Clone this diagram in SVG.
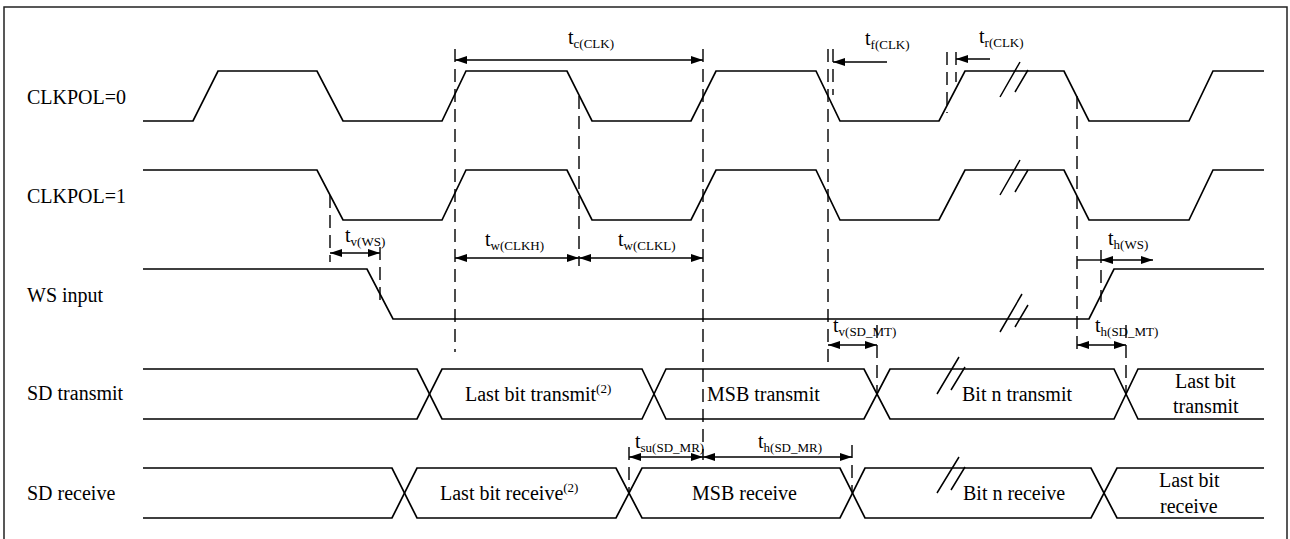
<svg xmlns="http://www.w3.org/2000/svg" width="1290" height="539" viewBox="0 0 1290 539" font-family="Liberation Serif, Times New Roman, DejaVu Serif, serif">
<style>
.wave{fill:none;stroke:#000;stroke-width:1.7;stroke-linejoin:miter}
.slash{fill:none;stroke:#000;stroke-width:1.5}
.dash{fill:none;stroke:#000;stroke-width:1.4;stroke-dasharray:13,7}
.dim{fill:none;stroke:#000;stroke-width:1.4}
text{font-size:20px;fill:#000}
.sub{font-size:13px}
</style>
<defs>
<marker id="ah" viewBox="0 0 12 8" markerWidth="12" markerHeight="8" refX="12" refY="4" orient="auto-start-reverse" markerUnits="userSpaceOnUse">
<path d="M0,0 L12,4 L0,8 z" fill="#000"/>
</marker>
</defs>
<rect x="0" y="0" width="1290" height="539" fill="#fff"/>
<path d="M4,539 V7 H1287 V539" fill="none" stroke="#222" stroke-width="1.5"/>

<g id="clkpol0">
<text x="27" y="104">CLKPOL=0</text>
<path class="wave" d="M143,121 H193 L218,71 H317 L343,121 H442 L466,71 H567 L592,121 H691 L716,71 H816 L840,121 H939 L965,71 H1064 L1089,121 H1189 L1213,71 H1264"/>
<path class="slash" d="M1000,97 L1020,62 M1015,92 L1028,70"/>
</g>

<g id="clkpol1">
<text x="27" y="203">CLKPOL=1</text>
<path class="wave" d="M143,170 H317 L343,220 H442 L466,170 H567 L592,220 H691 L716,170 H816 L840,220 H939 L965,170 H1064 L1089,220 H1189 L1213,170 H1264"/>
<path class="slash" d="M1000,195 L1020,160 M1015,192 L1028,170"/>
</g>

<g id="ws-input">
<text x="27" y="302">WS input</text>
<path class="wave" d="M143,269 H367 L393,319 H1089 L1114,269 H1264"/>
<path class="slash" d="M1000,332 L1022,294 M1015,327 L1028,305"/>
</g>

<g id="sd-transmit">
<text x="27" y="400">SD transmit</text>
<path class="wave" d="M143,369 H417 L442,419 H642 L666,369 H864 L890,419 H1114 L1138,369 H1264"/>
<path class="wave" d="M143,419 H417 L442,369 H642 L666,419 H864 L890,369 H1114 L1138,419 H1264"/>
<path class="slash" d="M937,394 L959,357 M951,390 L965,367"/>
<text x="465" y="401">Last bit transmit<tspan class="sub" dy="-8">(2)</tspan></text>
<text x="707" y="401">MSB transmit</text>
<text x="962" y="401">Bit n transmit</text>
<text x="1175" y="388">Last bit</text>
<text x="1173" y="413">transmit</text>
</g>

<g id="sd-receive">
<text x="27" y="500">SD receive</text>
<path class="wave" d="M143,468 H392 L417,518 H616 L642,468 H840 L865,518 H1091 L1117,468 H1264"/>
<path class="wave" d="M143,518 H392 L417,468 H616 L642,518 H840 L865,468 H1091 L1117,518 H1264"/>
<path class="slash" d="M937,493 L959,457 M951,490 L965,467"/>
<text x="440" y="500">Last bit receive<tspan class="sub" dy="-8">(2)</tspan></text>
<text x="692" y="500">MSB receive</text>
<text x="963" y="500">Bit n receive</text>
<text x="1159" y="487">Last bit</text>
<text x="1160" y="513">receive</text>
</g>

<g id="connectors">
<path class="dash" d="M330,195 V262"/>
<path class="dash" d="M380,247 V300"/>
<path class="dash" d="M455,49 V352"/>
<path class="dash" d="M579,96 V266"/>
<path class="dash" d="M703,49 V460"/>
<path class="dash" d="M828,49 V368"/>
<path class="dash" d="M833,49 V95"/>
<path class="dash" d="M947,52 V113"/>
<path class="dash" d="M956,52 V82"/>
<path class="dash" d="M1077,96 V352"/>
<path class="dash" d="M1101,250 V302"/>
<path class="dash" d="M877,325 V394"/>
<path class="dash" d="M1126,325 V394"/>
<path class="dash" d="M629,447 V495"/>
<path class="dash" d="M852,445 V492"/>

<path class="dim" d="M455,60 H703" marker-start="url(#ah)" marker-end="url(#ah)"/>
<path class="dim" d="M887,62 H833" marker-end="url(#ah)"/>
<path class="dim" d="M990,59 H956" marker-end="url(#ah)"/>
<path class="dim" d="M455,258 H579" marker-start="url(#ah)" marker-end="url(#ah)"/>
<path class="dim" d="M579,258 H703" marker-start="url(#ah)" marker-end="url(#ah)"/>
<path class="dim" d="M330,253 H380" marker-start="url(#ah)" marker-end="url(#ah)"/>
<path class="dim" d="M1077,260 H1101"/>
<path class="dim" d="M1101,260 H1153" marker-start="url(#ah)" marker-end="url(#ah)"/>
<path class="dim" d="M828,345 H877" marker-start="url(#ah)" marker-end="url(#ah)"/>
<path class="dim" d="M1077,345 H1126" marker-start="url(#ah)" marker-end="url(#ah)"/>
<path class="dim" d="M629,457 H703" marker-start="url(#ah)" marker-end="url(#ah)"/>
<path class="dim" d="M703,457 H852" marker-start="url(#ah)" marker-end="url(#ah)"/>

<text x="568" y="44">t<tspan class="sub" dy="4">c(CLK)</tspan></text>
<text x="865" y="45">t<tspan class="sub" dy="4">f(CLK)</tspan></text>
<text x="979" y="43">t<tspan class="sub" dy="4">r(CLK)</tspan></text>
<text x="485" y="246">t<tspan class="sub" dy="4">w(CLKH)</tspan></text>
<text x="618" y="246">t<tspan class="sub" dy="4">w(CLKL)</tspan></text>
<text x="345" y="242">t<tspan class="sub" dy="4">v(WS)</tspan></text>
<text x="1108" y="245">t<tspan class="sub" dy="4">h(WS)</tspan></text>
<text x="833" y="332">t<tspan class="sub" dy="4">v(SD_MT)</tspan></text>
<text x="1095" y="332">t<tspan class="sub" dy="4">h(SD_MT)</tspan></text>
<text x="635" y="448">t<tspan class="sub" dy="4">su(SD_MR)</tspan></text>
<text x="758" y="448">t<tspan class="sub" dy="4">h(SD_MR)</tspan></text>
</g>
</svg>
